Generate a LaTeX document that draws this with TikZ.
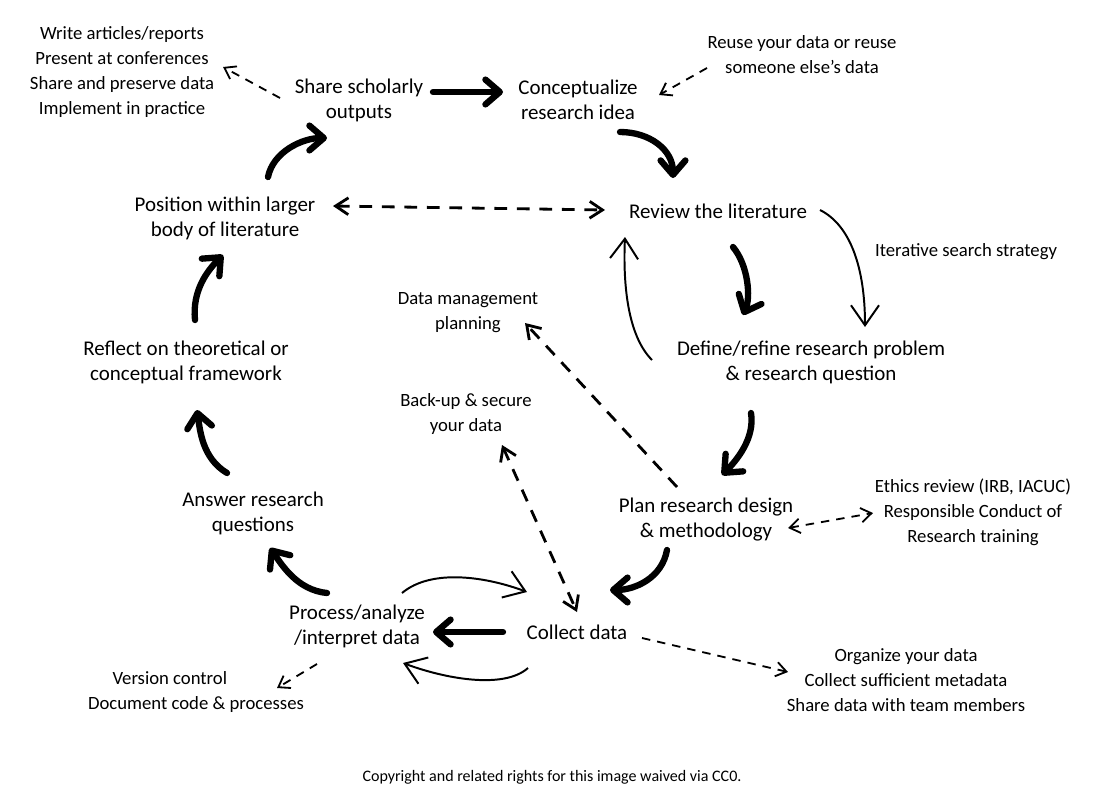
\documentclass[tikz,border=0pt]{standalone}
\usepackage{fontspec}
\setmainfont{Carlito}
\usetikzlibrary{arrows.meta,calc}

\begin{document}
\begin{tikzpicture}[
    x=0.025cm, y=-0.025cm,
    stage/.style={align=center, font=\fontsize{14.9}{17.8}\selectfont},
    aside/.style={align=center, font=\fontsize{13.3}{17.8}\selectfont},
    flow/.style={line width=4.5pt, line cap=round,
                 -{Straight Barb[length=3.6mm, width=6.2mm, round]}},
    thinflow/.style={line width=1.4pt,
                     -{Straight Barb[length=5mm, width=7mm]}},
    dashlink/.style={line width=2pt, dash pattern=on 9pt off 7pt,
                     >={Straight Barb[length=3.2mm, width=4.2mm]}},
    dashnote/.style={line width=1.3pt, dash pattern=on 6pt off 5pt,
                     >={Straight Barb[length=2.6mm, width=3.6mm]}}
]
    \useasboundingbox (0,0) rectangle (1104,797);

    % Research cycle stages
    \node[stage] (share)    at (359,100) {Share scholarly\\outputs};
    \node[stage] (concept)  at (578,100) {Conceptualize\\research idea};
    \node[stage] (review)   at (718,211) {Review the literature};
    \node[stage] (define)   at (811,362) {Define/refine research problem\\\& research question};
    \node[stage] (plan)     at (706,520) {Plan research design\\\& methodology};
    \node[stage] (collect)  at (577,632) {Collect data};
    \node[stage] (process)  at (357,626) {Process/analyze\\/interpret data};
    \node[stage] (answer)   at (253,513) {Answer research\\questions};
    \node[stage] (reflect)  at (186,362) {Reflect on theoretical or\\conceptual framework};
    \node[stage] (position) at (225,218) {Position within larger\\body of literature};

    % Side notes
    \node[aside] (outputs)  at (122,72)  {Write articles/reports\\Present at conferences\\Share and preserve data\\Implement in practice};
    \node[aside] (reuse)    at (802,55)  {Reuse your data or reuse\\someone else’s data};
    \node[aside] (iterate)  at (966,252) {Iterative search strategy};
    \node[aside] (dmp)      at (468,313) {Data management\\planning};
    \node[aside] (backup)   at (466,414) {Back-up \& secure\\your data};
    \node[aside] (ethics)   at (973,512) {Ethics review (IRB, IACUC)\\Responsible Conduct of\\Research training};
    \node[aside] (organize) at (906,680) {Organize your data\\Collect sufficient metadata\\Share data with team members};
    \node[aside] (version)  at (196,692) {Version control\hspace*{2.8em}\\Document code \& processes};
    \node[font=\fontsize{11.4}{13}\selectfont] (rights) at (552,777) {Copyright and related rights for this image waived via CC0.};

    % Main cycle (thick arrows)
    \draw[flow] ($(share)+(74,-8)$) -- ($(concept)+(-75,-8)$);
    \draw[flow] ($(concept)+(42,32)$) .. controls +(30,0) and +(0,-28) .. ($(review)+(-45,-33)$);
    \draw[flow] ($(review)+(15,36)$) .. controls +(15,18) and +(8,-18) .. ($(define)+(-68,-47)$);
    \draw[flow] ($(define)+(-60,51)$) .. controls +(4,25) and +(15,-15) .. ($(plan)+(16,-45)$);
    \draw[flow] ($(plan)+(-39,30)$) .. controls +(-5,28) and +(25,0) .. ($(collect)+(33,-42)$);
    \draw[flow] ($(collect)+(-74,0)$) -- ($(process)+(76,6)$);
    \draw[flow] ($(process)+(-30,-33)$) .. controls +(-30,-3) and +(12,17) .. ($(answer)+(17,35)$);
    \draw[flow] ($(answer)+(-26,-40)$) .. controls +(-25,-15) and +(3,20) .. ($(reflect)+(11,48)$);
    \draw[flow] ($(reflect)+(9,-42)$) .. controls +(-3,-30) and +(-15,15) .. ($(position)+(-2,37)$);
    \draw[flow] ($(position)+(43,-41)$) .. controls +(5,-25) and +(-25,0) .. ($(share)+(-32,38)$);

    % Iteration loops (thin arrows)
    \draw[thinflow] ($(review)+(102,-1)$) .. controls +(30,15) and +(0,-60) .. ($(define)+(54,-35)$);
    \draw[thinflow] ($(define)+(-159,-2)$) .. controls +(-25,-25) and +(-2,45) .. ($(review)+(-93,26)$);
    \draw[thinflow] ($(process)+(45,-33)$) .. controls +(30,-25) and +(-40,-15) .. ($(collect)+(-50,-40)$);
    \draw[thinflow] ($(collect)+(-49,36)$) .. controls +(-25,22) and +(40,15) .. ($(process)+(46,37)$);

    % Data links (dashed)
    \draw[dashlink, <->] ($(position)+(108,-12)$) -- ($(review)+(-113,-1)$);
    \draw[dashlink, ->] ($(plan)+(-29,-33)$) -- ($(dmp)+(57,10)$);
    \draw[dashlink, <->] ($(backup)+(36,31)$) -- ($(collect)+(0,-20)$);
    \draw[dashnote, ->] ($(share)+(-79,-2)$) -- ($(outputs)+(101,-5)$);
    \draw[dashnote, ->] ($(reuse)+(-95,13)$) -- ($(concept)+(81,-5)$);
    \draw[dashnote, <->] ($(plan)+(82,8)$) -- ($(ethics)+(-100,1)$);
    \draw[dashnote, ->] ($(collect)+(65,6)$) -- ($(organize)+(-118,-8)$);
    \draw[dashnote, ->] ($(process)+(-40,38)$) -- ($(version)+(81,-4)$);
\end{tikzpicture}
\end{document}
